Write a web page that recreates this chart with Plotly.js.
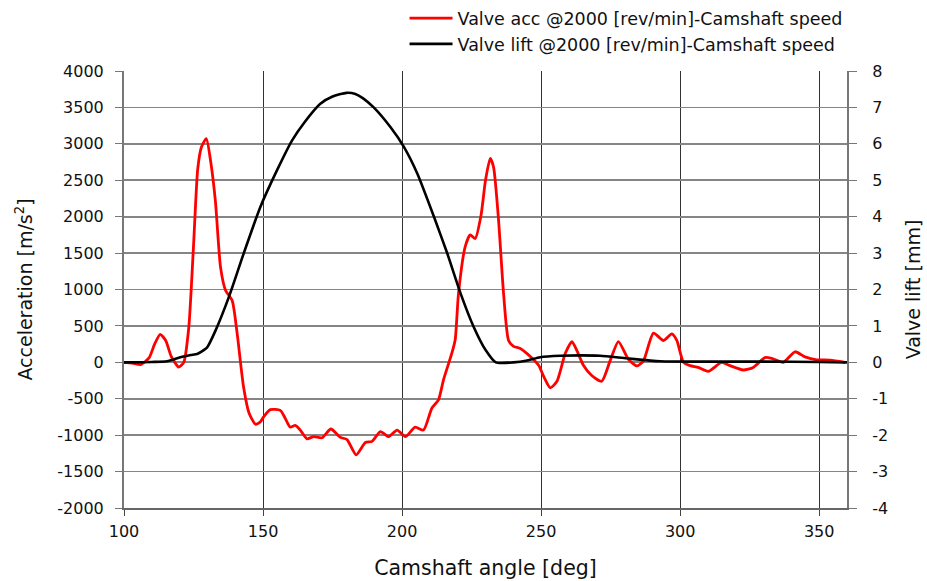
<!DOCTYPE html>
<html>
<head>
<meta charset="utf-8">
<script src="https://cdn.plot.ly/plotly-3.0.1.min.js"></script>
<style>html,body{margin:0;padding:0;background:#fff;}#chart{width:927px;height:581px;}</style>
</head>
<body>
<div id="chart"></div>
<script>
const accAngle = [100,103,106,109,111,113,115,117,119.7,121.5,123.3,125,126.5,127.8,129.6,131.2,132.9,134.7,136.5,138.9,140.7,143,145,147.3,149,150.2,152.6,156.2,158,159.8,161.6,163.4,165.8,168.2,171.2,174.4,177.8,180.2,183.5,186.8,189.2,192.2,195.2,198.2,201.2,204.7,207.7,210.7,213.1,214.9,217.9,219.1,220.3,222.7,224.5,226.3,228.4,230,231.7,232.9,234.7,236.5,238.3,240.1,242.5,246.1,249.1,251,253.3,255.7,258.7,261.1,263,265.2,268.2,271.8,274.8,277.8,281.4,284.5,286.8,290.4,294,297,298.8,301.2,303.6,306.5,310.1,314.9,317.9,322.7,326.3,330.5,332.9,337.1,341.3,344.9,349.1,353.9,359.3];
const accValues = [0,-10,-30,60,250,385,300,80,-65,0,480,1600,2650,2950,3073,2750,2200,1310,990,850,394,-340,-700,-850,-820,-750,-650,-660,-770,-890,-865,-930,-1050,-1020,-1035,-915,-1030,-1060,-1270,-1100,-1085,-950,-1020,-930,-1020,-890,-930,-630,-515,-240,125,310,950,1590,1750,1700,2020,2500,2800,2680,1950,945,300,220,190,80,-40,-200,-350,-260,125,285,150,-40,-180,-260,20,285,40,-50,20,400,300,390,300,0,-45,-70,-125,0,-45,-105,-70,65,55,0,145,75,35,30,0];

const liftAngle = [100,110,115.5,120.3,124,126.3,128,129.9,132.9,137.7,143,149,155,160.4,165,170.6,175,180,183.2,186,189.8,195.8,200.7,205.5,211.5,216.3,221.1,225.6,230.1,233.7,240.1,245,249.7,256.9,264,271.2,280.8,292.8,310,330,350,360];
const liftValues = [0,0.01,0.03,0.14,0.2,0.23,0.3,0.41,0.87,1.79,2.98,4.26,5.27,6.09,6.6,7.1,7.3,7.4,7.37,7.25,7.0,6.46,5.91,5.18,3.99,2.98,1.88,1.0,0.33,0.0,0,0.05,0.14,0.18,0.19,0.18,0.11,0.03,0.02,0.02,0.01,0];

const xTicks = [100,150,200,250,300,350];
const accTicks = [-2000,-1500,-1000,-500,0,500,1000,1500,2000,2500,3000,3500,4000];
const liftTicks = [-4,-3,-2,-1,0,1,2,3,4,5,6,7,8];

const FONT = 'DejaVu Sans, Liberation Sans, Arial, sans-serif';

const traces = [
  {x: accAngle, y: accValues, type: 'scatter', mode: 'lines', name: 'Valve acc @2000 [rev/min]-Camshaft speed',
   line: {color: '#ff0000', width: 2.8, shape: 'spline', smoothing: 0.6}, yaxis: 'y'},
  {x: liftAngle, y: liftValues, type: 'scatter', mode: 'lines', name: 'Valve lift @2000 [rev/min]-Camshaft speed',
   line: {color: '#000000', width: 2.6, shape: 'spline', smoothing: 0.6}, yaxis: 'y2'}
];

const layout = {
  width: 927, height: 581,
  paper_bgcolor: '#fff', plot_bgcolor: '#fff',
  margin: {l: 124, r: 80, t: 71, b: 73, autoexpand: false},
  font: {family: FONT, size: 16, color: '#111'},
  showlegend: true,
  legend: {x: 0.388, xanchor: 'left', y: 1.162, yanchor: 'top', bgcolor: 'rgba(0,0,0,0)',
           itemwidth: 43, font: {family: FONT, size: 17.5, color: '#111'}, tracegroupgap: 0},
  xaxis: {range: [100, 360], tickvals: xTicks, ticktext: xTicks.map(String), ticks: 'outside', ticklen: 6, tickcolor: '#444',
          showgrid: true, gridcolor: '#333', gridwidth: 1, showline: true, linecolor: '#666', linewidth: 2,
          zeroline: false, tickfont: {size: 16}, ticklabelstandoff: 2,
          title: {text: 'Camshaft angle [deg]', font: {size: 20.5}, standoff: 20}},
  yaxis: {range: [-2000, 4000], tickvals: accTicks, ticktext: accTicks.map(String), ticks: 'outside', ticklen: 7, tickcolor: '#777',
          showgrid: true, gridcolor: '#858585', gridwidth: 1.8, showline: true, linecolor: '#777', linewidth: 2,
          zeroline: false, tickfont: {size: 16}, ticklabelstandoff: 8,
          title: {text: 'Acceleration [m/s<sup>2</sup>]', font: {size: 19}, standoff: 20}},
  yaxis2: {range: [-4, 8], tickvals: liftTicks, ticktext: liftTicks.map(String), overlaying: 'y', side: 'right', ticks: 'outside', ticklen: 8, tickcolor: '#777',
           showgrid: false, showline: true, linecolor: '#777', linewidth: 2, zeroline: false, tickfont: {size: 16}, ticklabelstandoff: 12,
           title: {text: 'Valve lift [mm]', font: {size: 19}, standoff: 20}}
};

Plotly.newPlot('chart', traces, layout, {displayModeBar: false, staticPlot: true});
</script>
</body>
</html>
